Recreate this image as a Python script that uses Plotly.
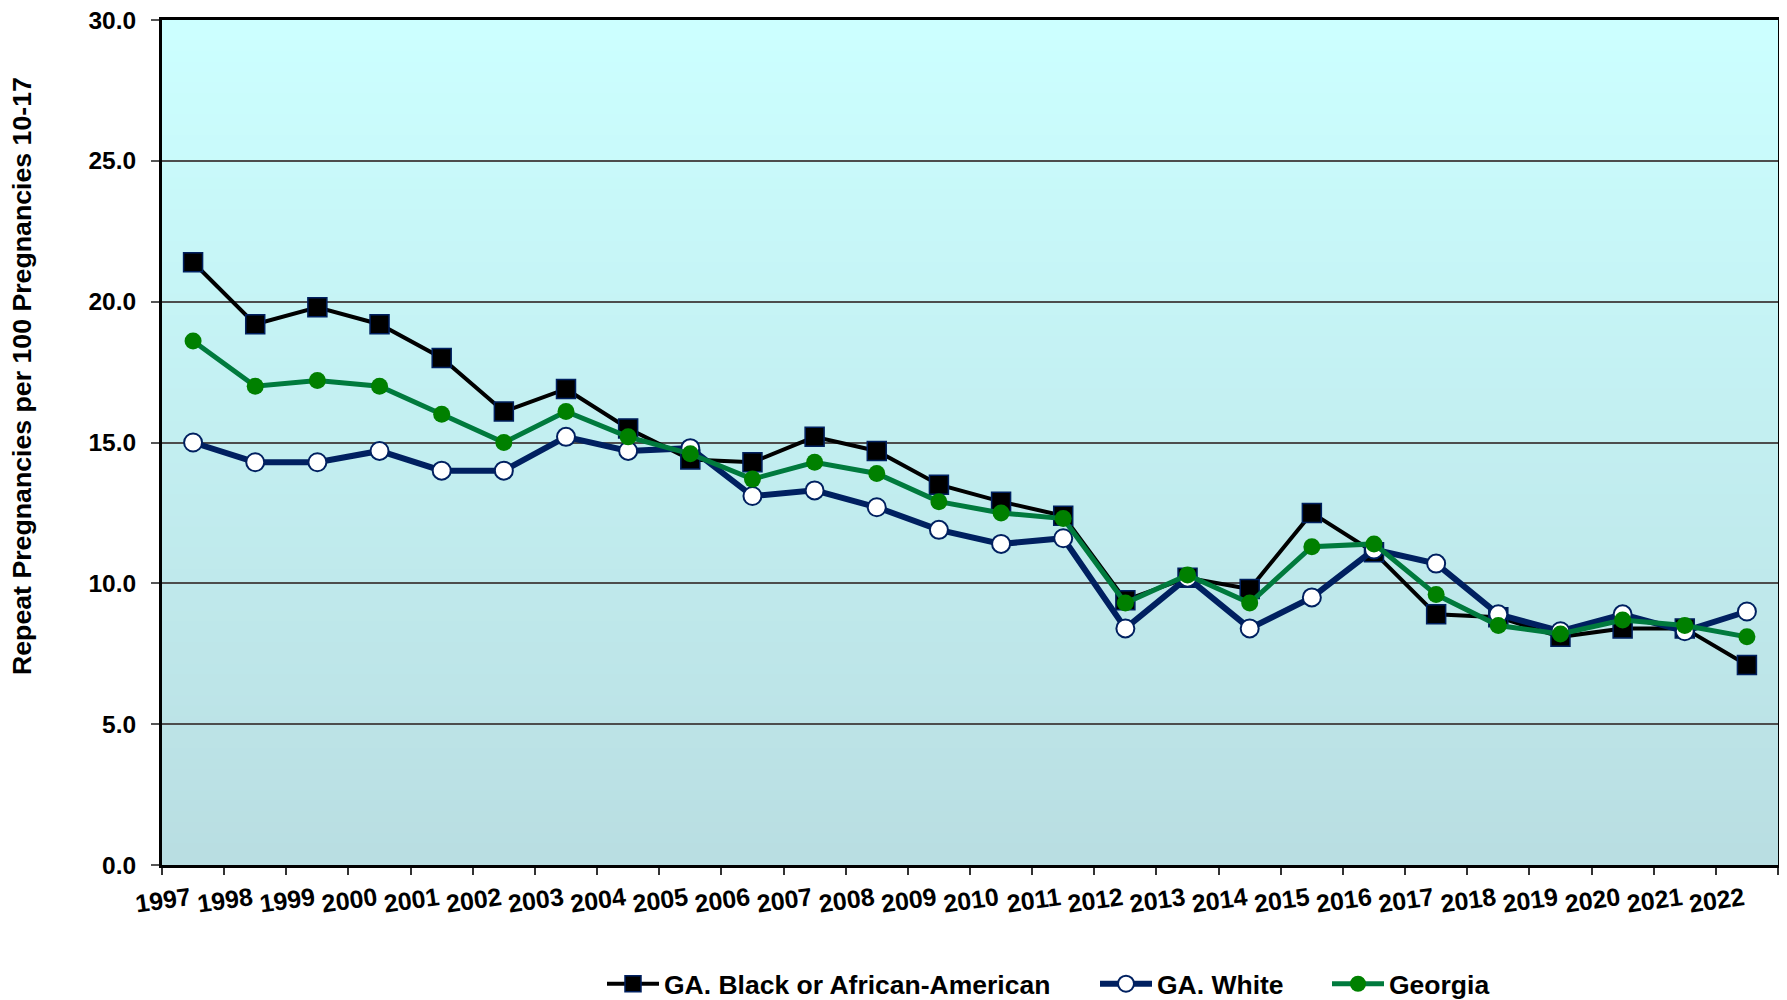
import plotly.graph_objects as go

years = list(range(1997, 2023))
black = [21.4, 19.2, 19.8, 19.2, 18.0, 16.1, 16.9, 15.5, 14.4, 14.3, 15.2, 14.7, 13.5,
         12.9, 12.4, 9.4, 10.2, 9.8, 12.5, 11.1, 8.9, 8.8, 8.1, 8.4, 8.4, 7.1]
white = [15.0, 14.3, 14.3, 14.7, 14.0, 14.0, 15.2, 14.7, 14.8, 13.1, 13.3, 12.7, 11.9,
         11.4, 11.6, 8.4, 10.2, 8.4, 9.5, 11.2, 10.7, 8.9, 8.3, 8.9, 8.3, 9.0]
georgia = [18.6, 17.0, 17.2, 17.0, 16.0, 15.0, 16.1, 15.2, 14.6, 13.7, 14.3, 13.9, 12.9,
           12.5, 12.3, 9.3, 10.3, 9.3, 11.3, 11.4, 9.6, 8.5, 8.2, 8.7, 8.5, 8.1]
series_names = ["GA. Black or African-American", "GA. White", "Georgia"]
y_title = "Repeat Pregnancies per 100 Pregnancies 10-17"

FONT = "Liberation Sans, Arial, sans-serif"
OFF = 8  # default body margin of the html page
W, H = 1787 - OFF, 1000 - OFF
# screen-space plot box: left 162, right 1778, top 20, bottom 865
ML, MT = 162 - OFF, 20 - OFF
MR = W - (1778 - OFF)
MB = H - (865 - OFF)
PW, PH = W - ML - MR, H - MT - MB

fig = go.Figure()
fig.add_trace(go.Scatter(
    x=years, y=black, name=series_names[0], mode="lines+markers", legend="legend",
    line=dict(color="#000000", width=4),
    marker=dict(symbol="square", size=19, color="#000000", line=dict(color="#002060", width=1.5)),
))
fig.add_trace(go.Scatter(
    x=years, y=white, name=series_names[1], mode="lines+markers", legend="legend2",
    line=dict(color="#002060", width=6),
    marker=dict(symbol="circle", size=18, color="#FFFFFF", line=dict(color="#002060", width=2)),
))
fig.add_trace(go.Scatter(
    x=years, y=georgia, name=series_names[2], mode="lines+markers", legend="legend3",
    line=dict(color="#007A3D", width=5),
    marker=dict(symbol="circle", size=17, color="#008000", line=dict(width=0)),
))

# vertical gradient background
top = (204, 255, 255)
bot = (185, 222, 226)
n = 80
shapes = []
for i in range(n):
    t = i / (n - 1)
    c = tuple(round(top[k] + (bot[k] - top[k]) * t) for k in range(3))
    y1 = 1 - i / n
    y0 = 1 - (i + 1) / n
    shapes.append(dict(type="rect", xref="paper", yref="paper", x0=0, x1=1,
                       y0=y0 - 0.001, y1=y1 + 0.001, line=dict(width=0),
                       fillcolor="rgb(%d,%d,%d)" % c, layer="below"))

tickvals = [y - 0.5 for y in years] + [years[-1] + 0.5]
ticktext = [str(y) for y in years] + [""]

legend_common = dict(orientation="h", xref="container", yref="container",
                     y=1 - (984 - OFF) / H, yanchor="middle", xanchor="left",
                     bgcolor="rgba(0,0,0,0)", borderwidth=0, itemwidth=52,
                     font=dict(family=FONT, size=26.5, color="#000000", weight="bold"))

fig.update_layout(
    width=W, height=H,
    margin=dict(l=ML, r=MR, t=MT, b=MB, autoexpand=False),
    paper_bgcolor="#FFFFFF",
    plot_bgcolor="rgba(0,0,0,0)",
    shapes=shapes,
    showlegend=True,
    legend=dict(legend_common, x=(602 - OFF) / W),
    legend2=dict(legend_common, x=(1095 - OFF) / W),
    legend3=dict(legend_common, x=(1327 - OFF) / W),
    xaxis=dict(
        range=[years[0] - 0.5, years[-1] + 0.5],
        tickvals=tickvals, ticktext=ticktext, tickangle=-8, ticklabelshift=28,
        tickfont=dict(family=FONT, size=25, color="#000000", weight="bold"),
        ticks="outside", ticklen=7, tickwidth=1.5, tickcolor="#333333",
        ticklabeloverflow="allow",
        showgrid=False, zeroline=False,
        showline=True, linecolor="#000000", linewidth=3, mirror=True,
    ),
    yaxis=dict(
        range=[0, 30], dtick=5, tickformat=".1f",
        tickfont=dict(family=FONT, size=24.5, color="#000000", weight="bold"),
        ticks="outside", ticklen=8, tickwidth=1.5, tickcolor="#555555",
        ticklabelstandoff=10, ticklabeloverflow="allow",
        showgrid=True, gridcolor="#4D4D4D", gridwidth=1.5,
        zeroline=False,
        showline=True, linecolor="#000000", linewidth=3, mirror=True,
    ),
    annotations=[dict(
        text=y_title, textangle=-90, xref="paper", yref="paper",
        x=(22 - OFF - ML) / PW, y=(H - MB - (376 - OFF)) / PH,
        xanchor="center", yanchor="middle", showarrow=False,
        font=dict(family=FONT, size=26.7, color="#000000", weight="bold"),
    )],
)

fig.write_html("out.html")
